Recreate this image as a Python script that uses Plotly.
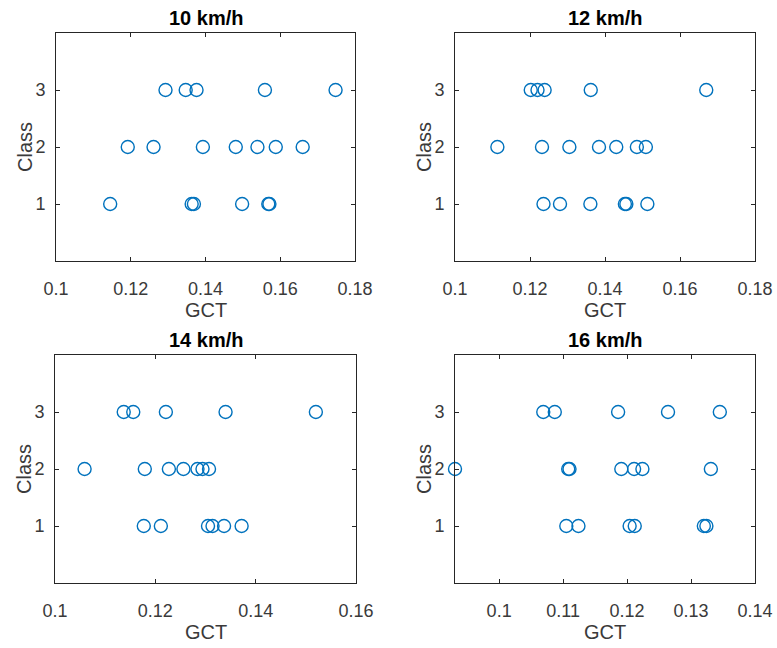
import plotly.graph_objects as go

# Ground contact time (s) per class, one panel per running speed
speeds = ["10 km/h", "12 km/h", "14 km/h", "16 km/h"]

gct_10_c3 = [0.1293, 0.1347, 0.1376, 0.1559, 0.1748]
gct_10_c2 = [0.1192, 0.1261, 0.1393, 0.1481, 0.1539, 0.1588, 0.1660]
gct_10_c1 = [0.1145, 0.1363, 0.1369, 0.1498, 0.1568, 0.1571]

gct_12_c3 = [0.1202, 0.1220, 0.1239, 0.1362, 0.1670]
gct_12_c2 = [0.1113, 0.1232, 0.1305, 0.1384, 0.1430, 0.1485, 0.1509]
gct_12_c1 = [0.1236, 0.1280, 0.1361, 0.1453, 0.1457, 0.1513]

gct_14_c3 = [0.1137, 0.1156, 0.1221, 0.1340, 0.1520]
gct_14_c2 = [0.1059, 0.1179, 0.1227, 0.1256, 0.1284, 0.1294, 0.1307]
gct_14_c1 = [0.1177, 0.1211, 0.1305, 0.1314, 0.1337, 0.1372]

gct_16_c3 = [0.1069, 0.1087, 0.1186, 0.1264, 0.1345]
gct_16_c2 = [0.0931, 0.1108, 0.1110, 0.1191, 0.1211, 0.1224, 0.1331]
gct_16_c1 = [0.1105, 0.1124, 0.1204, 0.1212, 0.1320, 0.1324]

x_ranges = [[0.1, 0.18], [0.1, 0.18], [0.1, 0.16], [0.0931, 0.14]]
x_ticks = [
    [0.1, 0.12, 0.14, 0.16, 0.18],
    [0.1, 0.12, 0.14, 0.16, 0.18],
    [0.1, 0.12, 0.14, 0.16],
    [0.1, 0.11, 0.12, 0.13, 0.14],
]
y_ticks = [1, 2, 3]
y_range = [0, 4]
x_label = "GCT"
y_label = "Class"

panels = [
    (gct_10_c1, gct_10_c2, gct_10_c3),
    (gct_12_c1, gct_12_c2, gct_12_c3),
    (gct_14_c1, gct_14_c2, gct_14_c3),
    (gct_16_c1, gct_16_c2, gct_16_c3),
]

W, H = 777, 648
# plot-area boxes in pixels: (left, right, top, bottom)
boxes = [(56, 355, 33, 261), (455, 755, 33, 261), (55, 356, 355, 583), (455, 755, 355, 583)]

axis_color = "#262626"
label_color = "#3a3a3a"
marker_color = "#0072BD"
font_family = "Liberation Sans, Arial, sans-serif"

fig = go.Figure()
layout = {}
annotations = []

for i, (groups, box) in enumerate(zip(panels, boxes)):
    n = "" if i == 0 else str(i + 1)
    xs, ys = [], []
    for cls, vals in zip([1, 2, 3], groups):
        xs += vals
        ys += [cls] * len(vals)
    fig.add_trace(go.Scatter(
        x=xs, y=ys, mode="markers", xaxis="x" + n, yaxis="y" + n,
        marker=dict(symbol="circle-open", size=13, color=marker_color,
                    line=dict(width=1.4, color=marker_color)),
        showlegend=False, cliponaxis=False,
    ))
    l, r, t, b = box
    common = dict(showline=True, linecolor=axis_color, linewidth=1, mirror="allticks",
                  ticks="inside", ticklen=4, tickcolor=axis_color, showgrid=False,
                  zeroline=False, automargin=False,
                  tickfont=dict(family=font_family, size=18, color=label_color))
    layout["xaxis" + n] = dict(
        common, domain=[l / W, r / W], anchor="y" + n, range=x_ranges[i],
        tickvals=x_ticks[i], ticktext=[f"{v:g}" for v in x_ticks[i]],
        ticklabelstandoff=11,
    )
    layout["yaxis" + n] = dict(
        common, domain=[1 - b / H, 1 - t / H], anchor="x" + n, range=y_range,
        tickvals=y_ticks, ticklabelstandoff=6,
    )
    # panel title
    annotations.append(dict(
        text="<b>" + speeds[i] + "</b>", x=(l + r) / 2 / W, y=1 - (t - 15) / H,
        xref="paper", yref="paper", showarrow=False, xanchor="center", yanchor="middle",
        font=dict(family=font_family, size=20, color="#000000"),
    ))
    # x-axis label
    annotations.append(dict(
        text=x_label, x=(l + r) / 2 / W, y=1 - (b + 49) / H,
        xref="paper", yref="paper", showarrow=False, xanchor="center", yanchor="middle",
        font=dict(family=font_family, size=20, color=label_color),
    ))
    # y-axis label
    annotations.append(dict(
        text=y_label, x=(l - 31) / W, y=1 - (t + b) / 2 / H, textangle=-90,
        xref="paper", yref="paper", showarrow=False, xanchor="center", yanchor="middle",
        font=dict(family=font_family, size=20, color=label_color),
    ))

fig.update_layout(
    width=W, height=H, margin=dict(l=0, r=0, t=0, b=0),
    paper_bgcolor="white", plot_bgcolor="white",
    annotations=annotations, **layout,
)

fig.write_html("out.html")
